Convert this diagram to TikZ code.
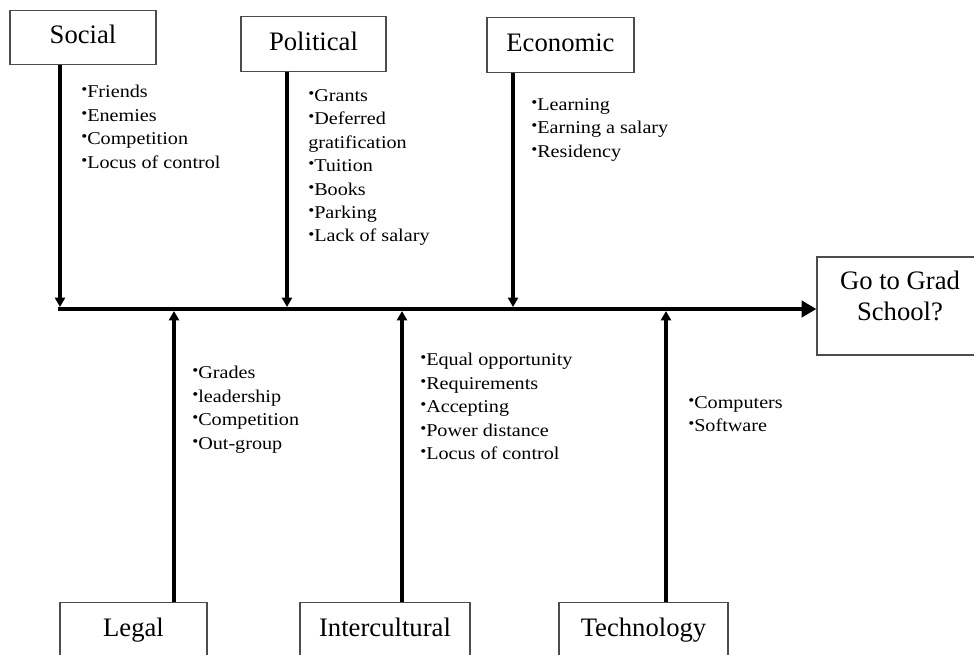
\documentclass[tikz,border=0pt]{standalone}
\usepackage{fontspec}
\setmainfont{Liberation Serif}
\newfontfamily\itemfont[FakeStretch=1.12]{Liberation Serif}
\usetikzlibrary{arrows.meta}
\tikzstyle{cat} = [draw=black!70, line width=0.9pt, minimum height=41pt, inner sep=0pt, text height=13.5pt, text depth=4pt, font=\fontsize{20}{23}\selectfont]
\tikzstyle{bone} = [line width=2.5pt, -{Triangle[length=7pt, width=7.5pt]}, shorten >=1.5pt]
\tikzstyle{spine} = [line width=3pt, -{Triangle[length=11pt, width=12pt]}]
\tikzstyle{item} = [anchor=north west, inner sep=0pt, align=left, font=\itemfont\fontsize{13.5}{17.6}\selectfont]
\newcommand{\bl}{{\fontsize{11.5}{11.5}\selectfont\raisebox{2.2pt}{\textbullet}}}

\begin{document}
\begin{tikzpicture}[x=0.75pt, y=-0.75pt]

	% Frame
	\useasboundingbox (0,0) rectangle (974,654);
	\clip (0,0) rectangle (974,654);

	% Coordinates on the spine
	\coordinate (s0) at (58,309);
	\coordinate (s1) at (60,309);
	\coordinate (p1) at (287,309);
	\coordinate (e1) at (513,309);
	\coordinate (l1) at (174,309);
	\coordinate (i1) at (402,309);
	\coordinate (t1) at (666,309);

	% Category boxes
	\node[cat, minimum width=109.5pt] (social) at (83,37.5) {Social};
	\node[cat, minimum width=108.75pt] (political) at (313.5,44) {Political};
	\node[cat, minimum width=110.25pt] (economic) at (560.5,45) {Economic};
	\node[cat, minimum width=110.25pt] (legal) at (133.5,630) {Legal};
	\node[cat, minimum width=127.5pt] (intercultural) at (385,630) {Intercultural};
	\node[cat, minimum width=126.75pt] (technology) at (643.5,630) {Technology};

	% Effect
	\node[draw=black!70, line width=0.9pt, minimum width=124.5pt, minimum height=73.5pt] (goal) at (900,306) {};
	\node[align=center, inner sep=0pt, font=\fontsize{20}{23}\selectfont] (goaltext) at (900,296) {Go to Grad\\School?};

	% Spine
	\draw[spine] (s0) -- (s0 -| goal.west);

	% Bones
	\draw[bone] (social.south -| s1) -- (s1);
	\draw[bone] (political.south -| p1) -- (p1);
	\draw[bone] (economic.south -| e1) -- (e1);
	\draw[bone] (legal.north -| l1) -- (l1);
	\draw[bone] (intercultural.north -| i1) -- (i1);
	\draw[bone] (technology.north -| t1) -- (t1);

	% Causes
	\node[item] (socialitems) at (81,85) {\bl Friends\\ \bl Enemies\\ \bl Competition\\ \bl Locus of control};
	\node[item] (politicalitems) at (308,89) {\bl Grants\\ \bl Deferred\\ gratification\\ \bl Tuition\\ \bl Books\\ \bl Parking\\ \bl Lack of salary};
	\node[item] (economicitems) at (531,98) {\bl Learning\\ \bl Earning a salary\\ \bl Residency};
	\node[item] (legalitems) at (192,366) {\bl Grades\\ \bl leadership\\ \bl Competition\\ \bl Out-group};
	\node[item] (interculturalitems) at (420,353) {\bl Equal opportunity\\ \bl Requirements\\ \bl Accepting\\ \bl Power distance\\ \bl Locus of control};
	\node[item] (technologyitems) at (688,396) {\bl Computers\\ \bl Software};

\end{tikzpicture}
\end{document}
